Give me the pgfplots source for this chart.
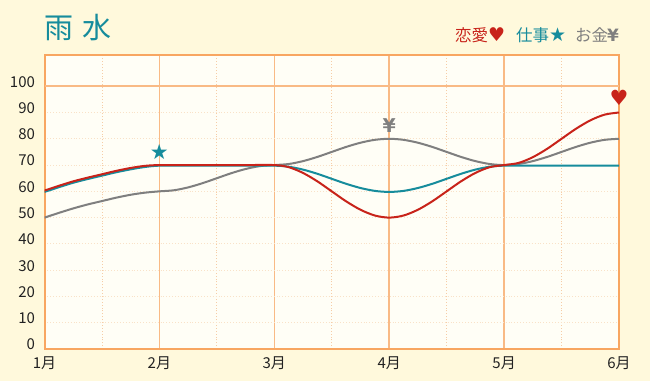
\documentclass[border=0pt]{standalone}
\usepackage{fontspec}
\setmainfont{Noto Sans CJK JP}
\newfontfamily\sym{DejaVu Sans}
\usepackage{pgfplots}
\pgfplotsset{compat=1.18}
\definecolor{bgout}{HTML}{FFF9DC}
\definecolor{plotbg}{HTML}{FFFEF6}
\definecolor{frameor}{HTML}{F8A661}
\definecolor{gridmaj}{HTML}{F9BA85}
\definecolor{gridmin}{HTML}{F6CDA6}
\definecolor{gridh}{HTML}{F9E2C8}
\definecolor{cred}{HTML}{C8231A}
\definecolor{cteal}{HTML}{168C9C}
\definecolor{cgray}{HTML}{7F7F7F}
\definecolor{ctext}{HTML}{222222}
\begin{document}
\begin{tikzpicture}
\fill[bgout] (0pt,0pt) rectangle (650pt,381pt);
\begin{axis}[
  at={(44.5pt,32pt)}, anchor=south west, scale only axis,
  width=574.5pt, height=294.3pt,
  xmin=1, xmax=6, ymin=0, ymax=112,
  axis background/.style={fill=plotbg},
  axis line style={draw=frameor, line width=2pt},
  xtick={1,2,3,4,5,6},
  xticklabels={1月,2月,3月,4月,5月,6月},
  minor xtick={1.5,2.5,3.5,4.5,5.5},
  ytick={0,10,...,100},
  yticklabels={0,10,20,30,40,50,60,70,80,90,100},
  xmajorgrids, xminorgrids, ymajorgrids,
  major x grid style={draw=gridmaj, line width=1.6pt, solid},
  minor x grid style={draw=gridmin, line width=0.9pt, dotted},
  major y grid style={draw=gridh, line width=0.9pt, dotted},
  major tick length=0pt, minor tick length=0pt,
  tick style={draw=none},
  ticklabel style={font=\fontsize{15}{15}\selectfont, text=ctext},
  yticklabel style={yshift=4.5pt, xshift=-6pt},
  xticklabel style={yshift=-4pt},
]
\draw[gridmaj, line width=1.6pt] (axis cs:1,100) -- (axis cs:6,100);
\addplot[cgray, line width=2pt, smooth] coordinates {
(1,50) (1.125,51.8) (1.25,53.5) (1.375,55) (1.5,56.3) (1.625,57.6) (1.75,58.7) (1.875,59.5)
(2,60) (2.125,60.4) (2.25,61.5) (2.375,63.1) (2.5,65) (2.625,66.9) (2.75,68.5) (2.875,69.6)
(3,70) (3.125,70.4) (3.25,71.5) (3.375,73.1) (3.5,75) (3.625,76.9) (3.75,78.5) (3.875,79.6)
(4,80) (4.125,79.6) (4.25,78.5) (4.375,76.9) (4.5,75) (4.625,73.1) (4.75,71.5) (4.875,70.4)
(5,70) (5.125,70.4) (5.25,71.5) (5.375,73.1) (5.5,75) (5.625,76.9) (5.75,78.5) (5.875,79.6)
(6,80)};
\addplot[cteal, line width=2pt, smooth, yshift=-0.6pt] coordinates {
(1,60) (1.125,61.8) (1.25,63.5) (1.375,64.9) (1.5,66.2) (1.625,67.5) (1.75,68.6) (1.875,69.5)
(2,70) (2.25,70) (2.5,70) (2.75,70)
(3,70) (3.125,69.6) (3.25,68.5) (3.375,66.9) (3.5,65) (3.625,63.1) (3.75,61.5) (3.875,60.4)
(4,60) (4.125,60.4) (4.25,61.5) (4.375,63.1) (4.5,65) (4.625,66.9) (4.75,68.5) (4.875,69.6)
(5,70) (5.25,70) (5.5,70) (5.75,70) (6,70)};
\addplot[cred, line width=2pt, smooth] coordinates {
(1,60.3) (1.125,62.1) (1.25,63.8) (1.375,65.2) (1.5,66.5) (1.625,67.8) (1.75,68.9) (1.875,69.7)
(2,70) (2.25,70) (2.5,70) (2.75,70)
(3,70) (3.125,69.2) (3.25,67) (3.375,63.8) (3.5,60) (3.625,56.2) (3.75,53) (3.875,50.8)
(4,50) (4.125,50.8) (4.25,53) (4.375,56.2) (4.5,60) (4.625,63.8) (4.75,67) (4.875,69.2)
(5,70) (5.125,70.8) (5.25,73) (5.375,76.2) (5.5,80) (5.625,83.8) (5.75,87) (5.875,89.2)
(6,90)};
\addplot[draw=none, mark=none, nodes near coords={\sym ★},
  every node near coord/.style={anchor=center, text=cteal, font=\fontsize{21}{21}\selectfont}]
  coordinates {(2,75)};
\addplot[draw=none, mark=none, nodes near coords={\sym\bfseries ¥},
  every node near coord/.style={anchor=center, text=cgray, font=\fontsize{19}{19}\selectfont}]
  coordinates {(4,85)};
\addplot[draw=none, mark=none, nodes near coords={\sym ♥},
  every node near coord/.style={anchor=center, text=cred, font=\fontsize{21}{21}\selectfont}]
  coordinates {(6,95.5)};
\end{axis}
\node[anchor=west, inner sep=0pt, text=cteal, font=\fontsize{29}{29}\selectfont] at (44pt,353.5pt) {雨\hspace{9pt}水};
\node[anchor=west, inner sep=0pt, text=cred, font=\fontsize{16.5}{16.5}\selectfont] at (455pt,346pt) {恋愛};
\node[anchor=west, inner sep=0pt, text=cred, font=\fontsize{19}{19}\selectfont] at (488pt,346pt) {\sym ♥};
\node[anchor=west, inner sep=0pt, text=cteal, font=\fontsize{16.5}{16.5}\selectfont] at (516pt,346pt) {仕事};
\node[anchor=west, inner sep=0pt, text=cteal, font=\fontsize{19}{19}\selectfont] at (549pt,346pt) {\sym ★};
\node[anchor=west, inner sep=0pt, text=cgray, font=\fontsize{16.5}{16.5}\selectfont] at (575pt,346pt) {お金};
\node[anchor=west, inner sep=0pt, text=cgray, font=\fontsize{17}{17}\selectfont] at (607pt,346pt) {\sym\bfseries ¥};
\end{tikzpicture}
\end{document}
